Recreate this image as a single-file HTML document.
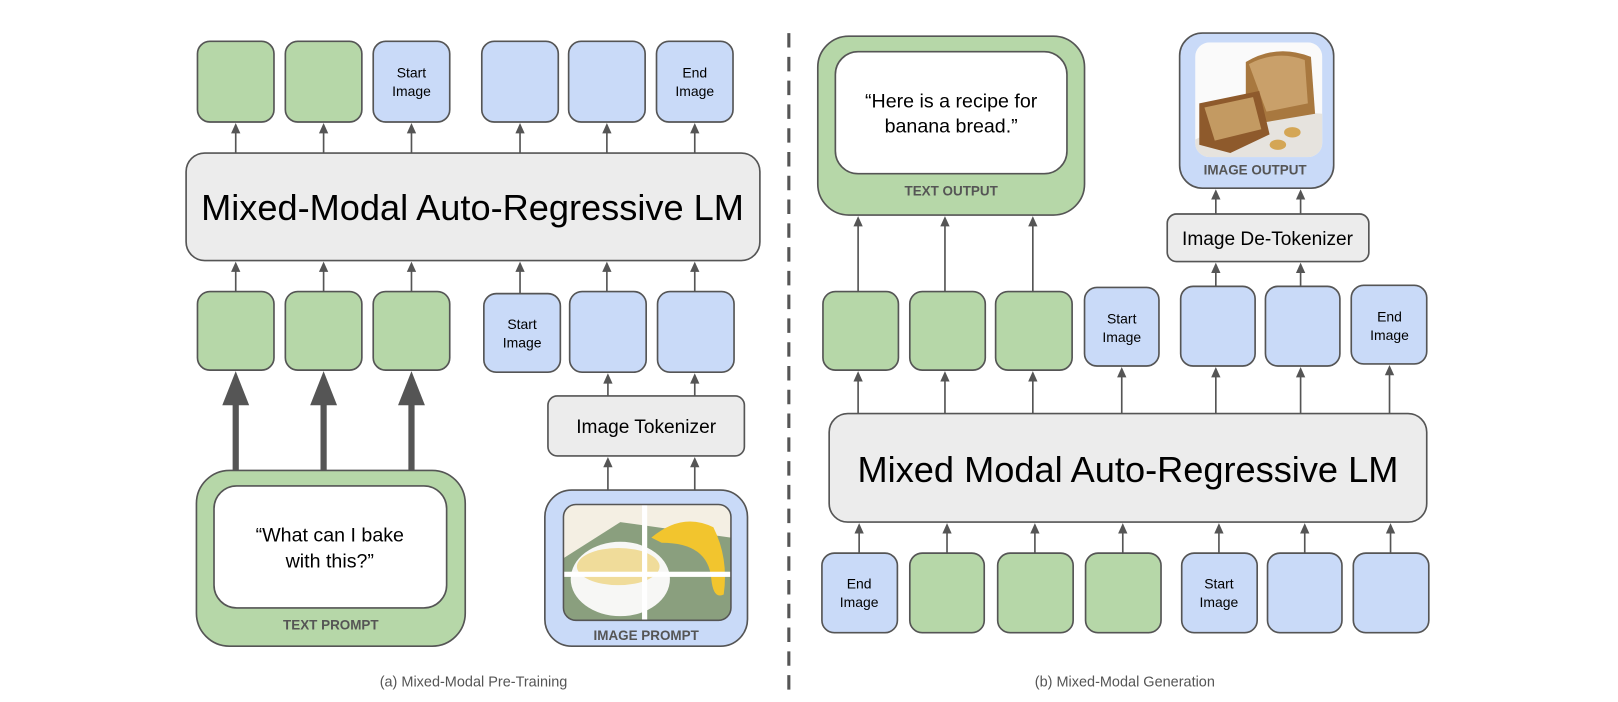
<!DOCTYPE html>
<html><head><meta charset="utf-8"><style>
html,body{margin:0;padding:0;background:#fff;}
svg{display:block;}
text{font-family:"Liberation Sans",Arial,sans-serif;}
</style></head><body>
<svg width="1618" height="702" viewBox="0 0 1565 679" xmlns="http://www.w3.org/2000/svg" xmlns:xlink="http://www.w3.org/1999/xlink">
<defs>
<path id="h" d="M-4.5,10 L0,0 L4.5,10 z" fill="#555"/>
</defs>
<g stroke="#555" stroke-width="1.6">
<rect x="191" y="40" width="74" height="78" rx="12" fill="#b6d7a8"/>
<rect x="276" y="40" width="74" height="78" rx="12" fill="#b6d7a8"/>
<rect x="361" y="40" width="74" height="78" rx="12" fill="#c9daf8"/>
<rect x="466" y="40" width="74" height="78" rx="12" fill="#c9daf8"/>
<rect x="550" y="40" width="74" height="78" rx="12" fill="#c9daf8"/>
<rect x="635" y="40" width="74" height="78" rx="12" fill="#c9daf8"/>
<rect x="180" y="148" width="555" height="104" rx="18" fill="#ececec"/>
<rect x="191" y="282" width="74" height="76" rx="12" fill="#b6d7a8"/>
<rect x="276" y="282" width="74" height="76" rx="12" fill="#b6d7a8"/>
<rect x="361" y="282" width="74" height="76" rx="12" fill="#b6d7a8"/>
<rect x="468" y="284" width="74" height="76" rx="12" fill="#c9daf8"/>
<rect x="551" y="282" width="74" height="78" rx="12" fill="#c9daf8"/>
<rect x="636" y="282" width="74" height="78" rx="12" fill="#c9daf8"/>
<rect x="530" y="383" width="190" height="58" rx="9" fill="#ececec"/>
<rect x="190" y="455" width="260" height="170" rx="32" fill="#b6d7a8"/>
<rect x="207" y="470" width="225" height="118" rx="22" fill="#fff"/>
<rect x="527" y="474" width="196" height="151" rx="26" fill="#c9daf8"/>
</g>
<g stroke="#555" stroke-width="1.6">
<line x1="228" y1="148" x2="228" y2="124"/><line x1="313" y1="148" x2="313" y2="124"/><line x1="398" y1="148" x2="398" y2="124"/>
<line x1="503" y1="148" x2="503" y2="124"/><line x1="587" y1="148" x2="587" y2="124"/><line x1="672" y1="148" x2="672" y2="124"/>
<line x1="228" y1="282" x2="228" y2="258"/><line x1="313" y1="282" x2="313" y2="258"/><line x1="398" y1="282" x2="398" y2="258"/>
<line x1="503" y1="284" x2="503" y2="258"/><line x1="587" y1="282" x2="587" y2="258"/><line x1="672" y1="282" x2="672" y2="258"/>
<line x1="588" y1="383" x2="588" y2="366"/><line x1="672" y1="383" x2="672" y2="366"/>
<line x1="588" y1="474" x2="588" y2="447"/><line x1="672" y1="474" x2="672" y2="447"/>
</g>
<g>
<use xlink:href="#h" x="228" y="119"/><use xlink:href="#h" x="313" y="119"/><use xlink:href="#h" x="398" y="119"/>
<use xlink:href="#h" x="503" y="119"/><use xlink:href="#h" x="587" y="119"/><use xlink:href="#h" x="672" y="119"/>
<use xlink:href="#h" x="228" y="253"/><use xlink:href="#h" x="313" y="253"/><use xlink:href="#h" x="398" y="253"/>
<use xlink:href="#h" x="503" y="253"/><use xlink:href="#h" x="587" y="253"/><use xlink:href="#h" x="672" y="253"/>
<use xlink:href="#h" x="588" y="361"/><use xlink:href="#h" x="672" y="361"/>
<use xlink:href="#h" x="588" y="442"/><use xlink:href="#h" x="672" y="442"/>
</g>
<g fill="#555" stroke="none">
<rect x="225" y="388" width="6" height="67"/><path d="M215,392 L228,359 L241,392 z"/>
<rect x="310" y="388" width="6" height="67"/><path d="M300,392 L313,359 L326,392 z"/>
<rect x="395" y="388" width="6" height="67"/><path d="M385,392 L398,359 L411,392 z"/>
</g>
<clipPath id="c1"><rect x="545" y="488" width="162" height="112" rx="12"/></clipPath>
<g clip-path="url(#c1)">
<rect x="545" y="488" width="162" height="112" fill="#f4efe3"/>
<path d="M545,540 L600,505 L707,520 L707,600 L545,600 z" fill="#8a9f7e"/>
<ellipse cx="600" cy="560" rx="48" ry="36" fill="#f7f7f5"/>
<ellipse cx="598" cy="548" rx="40" ry="18" fill="#f0dc9a"/>
<path d="M630,520 Q660,495 690,510 Q705,540 700,575 Q690,580 688,560 Q685,525 640,525 z" fill="#f2c52e"/>
<rect x="545" y="553" width="162" height="5" fill="#fff"/>
<rect x="621" y="488" width="5" height="112" fill="#fff"/>
</g>
<rect x="545" y="488" width="162" height="112" rx="12" fill="none" stroke="#555" stroke-width="1.5"/>
<line x1="763" y1="32" x2="763" y2="670" stroke="#555" stroke-width="3" stroke-dasharray="14,9"/>
<g stroke="#555" stroke-width="1.6">
<rect x="791" y="35" width="258" height="173" rx="30" fill="#b6d7a8"/>
<rect x="808" y="50" width="224" height="118" rx="22" fill="#fff"/>
<rect x="1141" y="32" width="149" height="150" rx="22" fill="#c9daf8"/>
<rect x="1129" y="207" width="195" height="46" rx="9" fill="#ececec"/>
<rect x="796" y="282" width="73" height="76" rx="12" fill="#b6d7a8"/>
<rect x="880" y="282" width="73" height="76" rx="12" fill="#b6d7a8"/>
<rect x="963" y="282" width="74" height="76" rx="12" fill="#b6d7a8"/>
<rect x="1049" y="278" width="72" height="76" rx="12" fill="#c9daf8"/>
<rect x="1142" y="277" width="72" height="77" rx="12" fill="#c9daf8"/>
<rect x="1224" y="277" width="72" height="77" rx="12" fill="#c9daf8"/>
<rect x="1307" y="276" width="73" height="76" rx="12" fill="#c9daf8"/>
<rect x="802" y="400" width="578" height="105" rx="18" fill="#ececec"/>
<rect x="795" y="535" width="73" height="77" rx="12" fill="#c9daf8"/>
<rect x="880" y="535" width="72" height="77" rx="12" fill="#b6d7a8"/>
<rect x="965" y="535" width="73" height="77" rx="12" fill="#b6d7a8"/>
<rect x="1050" y="535" width="73" height="77" rx="12" fill="#b6d7a8"/>
<rect x="1143" y="535" width="73" height="77" rx="12" fill="#c9daf8"/>
<rect x="1226" y="535" width="72" height="77" rx="12" fill="#c9daf8"/>
<rect x="1309" y="535" width="73" height="77" rx="12" fill="#c9daf8"/>
</g>
<g stroke="#555" stroke-width="1.6">
<line x1="830" y1="282" x2="830" y2="214"/><line x1="914" y1="282" x2="914" y2="214"/><line x1="999" y1="282" x2="999" y2="214"/>
<line x1="1176" y1="207" x2="1176" y2="188"/><line x1="1258" y1="207" x2="1258" y2="188"/>
<line x1="1176" y1="277" x2="1176" y2="259"/><line x1="1258" y1="277" x2="1258" y2="259"/>
<line x1="830" y1="400" x2="830" y2="364"/><line x1="914" y1="400" x2="914" y2="364"/><line x1="999" y1="400" x2="999" y2="364"/>
<line x1="1085" y1="400" x2="1085" y2="360"/><line x1="1176" y1="400" x2="1176" y2="360"/><line x1="1258" y1="400" x2="1258" y2="360"/><line x1="1344" y1="400" x2="1344" y2="358"/>
<line x1="831" y1="535" x2="831" y2="511"/><line x1="916" y1="535" x2="916" y2="511"/><line x1="1001" y1="535" x2="1001" y2="511"/><line x1="1086" y1="535" x2="1086" y2="511"/>
<line x1="1179" y1="535" x2="1179" y2="511"/><line x1="1262" y1="535" x2="1262" y2="511"/><line x1="1345" y1="535" x2="1345" y2="511"/>
</g>
<g>
<use xlink:href="#h" x="830" y="209"/><use xlink:href="#h" x="914" y="209"/><use xlink:href="#h" x="999" y="209"/>
<use xlink:href="#h" x="1176" y="183"/><use xlink:href="#h" x="1258" y="183"/>
<use xlink:href="#h" x="1176" y="254"/><use xlink:href="#h" x="1258" y="254"/>
<use xlink:href="#h" x="830" y="359"/><use xlink:href="#h" x="914" y="359"/><use xlink:href="#h" x="999" y="359"/>
<use xlink:href="#h" x="1085" y="355"/><use xlink:href="#h" x="1176" y="355"/><use xlink:href="#h" x="1258" y="355"/><use xlink:href="#h" x="1344" y="353"/>
<use xlink:href="#h" x="831" y="506"/><use xlink:href="#h" x="916" y="506"/><use xlink:href="#h" x="1001" y="506"/><use xlink:href="#h" x="1086" y="506"/>
<use xlink:href="#h" x="1179" y="506"/><use xlink:href="#h" x="1262" y="506"/><use xlink:href="#h" x="1345" y="506"/>
</g>
<clipPath id="c2"><rect x="1156" y="41" width="123" height="111" rx="14"/></clipPath>
<g clip-path="url(#c2)">
<rect x="1156" y="41" width="123" height="111" fill="#fafafa"/>
<path d="M1156,135 L1215,105 L1279,110 L1279,152 L1156,152 z" fill="#e6e3de"/>
<path d="M1205,60 Q1235,42 1268,55 L1272,110 L1225,118 L1205,105 z" fill="#a8783f"/>
<path d="M1208,62 Q1235,48 1262,58 L1265,100 L1225,108 z" fill="#c9a06a"/>
<path d="M1160,100 L1218,88 L1228,130 L1190,148 L1160,140 z" fill="#8e5a2c"/>
<path d="M1165,104 L1212,94 L1220,125 L1175,136 z" fill="#c39a62"/>
<ellipse cx="1250" cy="128" rx="8" ry="5" fill="#d4a655"/>
<ellipse cx="1236" cy="140" rx="8" ry="5" fill="#d4a655"/>
</g>
<g fill="#000">
<text x="398" y="75" font-size="13.5" text-anchor="middle">Start</text>
<text x="398" y="93" font-size="13.5" text-anchor="middle">Image</text>
<text x="672" y="75" font-size="13.5" text-anchor="middle">End</text>
<text x="672" y="93" font-size="13.5" text-anchor="middle">Image</text>
<text x="505" y="318" font-size="13.5" text-anchor="middle">Start</text>
<text x="505" y="336" font-size="13.5" text-anchor="middle">Image</text>
<text x="457" y="213" font-size="35" text-anchor="middle">Mixed-Modal Auto-Regressive LM</text>
<text x="625" y="419" font-size="18.5" text-anchor="middle">Image Tokenizer</text>
<text x="319" y="524" font-size="19" text-anchor="middle">“What can I bake</text>
<text x="319" y="549" font-size="19" text-anchor="middle">with this?”</text>
<text x="920" y="104" font-size="19" text-anchor="middle">“Here is a recipe for</text>
<text x="920" y="128" font-size="19" text-anchor="middle">banana bread.”</text>
<text x="1226" y="237" font-size="18.5" text-anchor="middle">Image De-Tokenizer</text>
<text x="1085" y="313" font-size="13.5" text-anchor="middle">Start</text>
<text x="1085" y="331" font-size="13.5" text-anchor="middle">Image</text>
<text x="1344" y="311" font-size="13.5" text-anchor="middle">End</text>
<text x="1344" y="329" font-size="13.5" text-anchor="middle">Image</text>
<text x="1091" y="466" font-size="35" text-anchor="middle">Mixed Modal Auto-Regressive LM</text>
<text x="831" y="569" font-size="13.5" text-anchor="middle">End</text>
<text x="831" y="587" font-size="13.5" text-anchor="middle">Image</text>
<text x="1179" y="569" font-size="13.5" text-anchor="middle">Start</text>
<text x="1179" y="587" font-size="13.5" text-anchor="middle">Image</text>
</g>
<g fill="#555" font-weight="bold" font-size="13" text-anchor="middle">
<text x="320" y="609">TEXT PROMPT</text>
<text x="625" y="619">IMAGE PROMPT</text>
<text x="920" y="189">TEXT OUTPUT</text>
<text x="1214" y="169">IMAGE OUTPUT</text>
</g>
<g fill="#555" font-size="14" text-anchor="middle">
<text x="458" y="664">(a) Mixed-Modal Pre-Training</text>
<text x="1088" y="664">(b) Mixed-Modal Generation</text>
</g>
</svg>
</body></html>
